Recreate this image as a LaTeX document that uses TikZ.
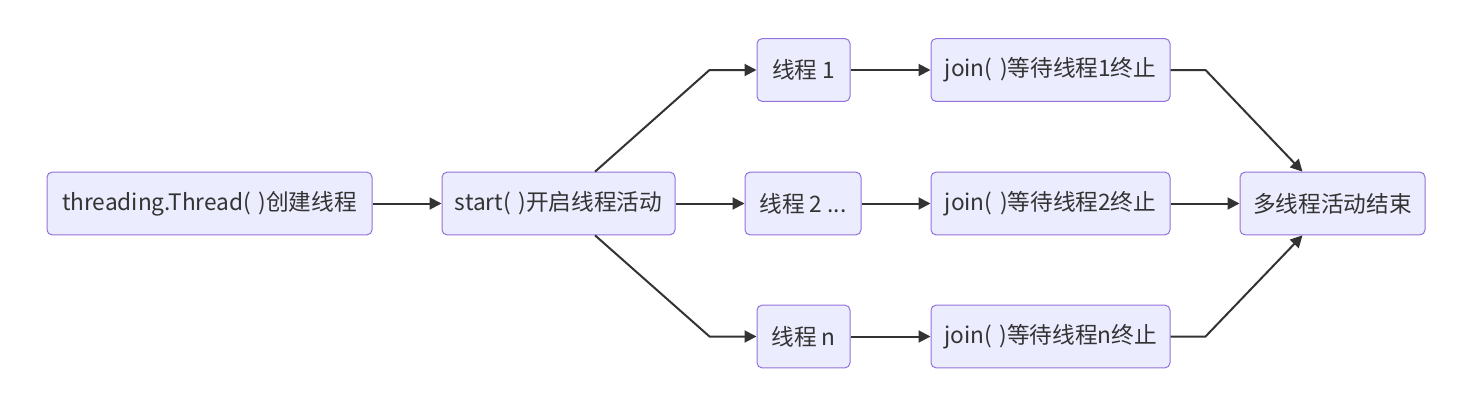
\documentclass[tikz,border=0pt]{standalone}
\usepackage{fontspec}
\setmainfont{Noto Sans CJK SC}
\usetikzlibrary{arrows.meta,positioning}

\definecolor{boxfill}{HTML}{ECECFF}
\definecolor{boxline}{HTML}{9370DB}
\definecolor{ink}{HTML}{333333}

\tikzset{
  box/.style={draw=boxline, fill=boxfill, rounded corners=3.75pt, line width=0.75pt,
    text=ink, minimum height=47pt, inner sep=0pt},
  link/.style={draw=ink, line width=1.5pt, -{Triangle[length=9pt,width=9pt]}},
}

\begin{document}
\begin{tikzpicture}[x=0.75pt,y=-0.75pt]

\fontsize{17pt}{20pt}\selectfont
\path [use as bounding box] (0,0) rectangle (1473,412);

% SOURCE
\node [box, minimum width=243.75pt] (create) at (209.5,203.5) {threading.Thread(\,\,)创建线程};
\node [box, minimum width=174.75pt] (start) at (558.5,203.5) {start(\,\,)开启线程活动};

% THREADS
\node [box, minimum width=69.75pt] (t1) at (803.5,70) {线程 1};
\node [box, minimum width=87pt] (t2) at (803,203.5) {线程 2 ...};
\node [box, minimum width=69.75pt] (tn) at (803.5,336.5) {线程 n};

% JOINS
\node [box, minimum width=179.25pt] (j1) at (1050.5,70) {join(\,\,)等待线程1终止};
\node [box, minimum width=179.25pt] (j2) at (1050.5,203.5) {join(\,\,)等待线程2终止};
\node [box, minimum width=179.25pt] (jn) at (1050.5,336.5) {join(\,\,)等待线程n终止};

% END
\node [box, minimum width=138.75pt] (done) at (1332.5,203.5) {多线程活动结束};

% EDGES
\draw [link] (create) -- (start);
\draw [link] ([xshift=27.4pt]start.north) -- ([xshift=-35.25pt]t1.west) -- (t1.west);
\draw [link] (start) -- (t2);
\draw [link] ([xshift=27.4pt]start.south) -- ([xshift=-35.25pt]tn.west) -- (tn.west);

\draw [link] (t1) -- (j1);
\draw [link] (t2) -- (j2);
\draw [link] (tn) -- (jn);

\draw [link] (j1.east) -- ([xshift=26.25pt]j1.east) -- ([xshift=-22.5pt]done.north);
\draw [link] (j2) -- (done);
\draw [link] (jn.east) -- ([xshift=26.25pt]jn.east) -- ([xshift=-22.5pt]done.south);

\end{tikzpicture}
\end{document}
